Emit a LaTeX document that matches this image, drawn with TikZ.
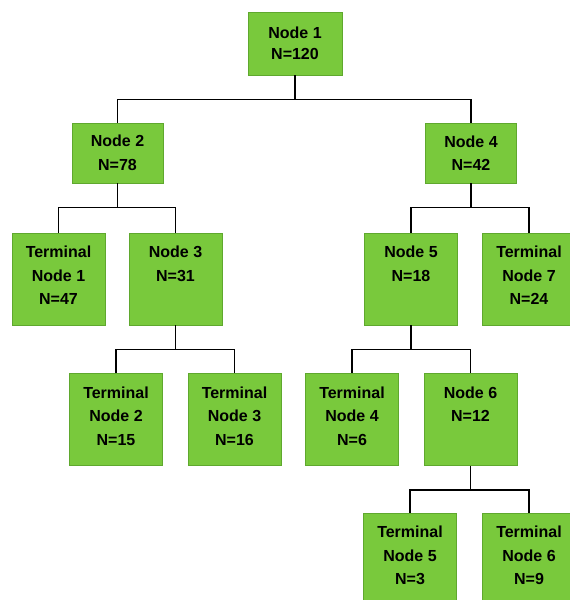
\documentclass[tikz,border=0pt]{standalone}
\usepackage{fontspec}
\setmainfont{Liberation Sans}
\definecolor{boxfill}{HTML}{79C93C}
\definecolor{boxedge}{HTML}{5FA82E}
\newcommand{\boxtxt}[1]{\parbox[c][66pt][t]{90pt}{\centering #1}}
\begin{document}
\begin{tikzpicture}[x=1pt, y=-1pt,
    box/.style={draw=boxedge, fill=boxfill, line width=0.6pt, inner sep=0pt,
      font=\fontsize{16}{23.5}\selectfont\bfseries},
    split/.style={box, minimum width=91pt, minimum height=60pt, align=center},
    leaf/.style={box, minimum width=93pt, minimum height=92pt},
    link/.style={draw=black, line width=1.4pt}]
  \useasboundingbox (0,0) rectangle (570,600);

  % Root and first split
  \node[split, minimum width=94pt, minimum height=63pt,
    font=\fontsize{16}{21}\selectfont\bfseries] (n1) at (295,43.5) {Node 1\\N=120};
  \node[split] (n2) at (117.5,153) {Node 2\\N=78};
  \node[split] (n4) at (471,153) {Node 4\\N=42};

  % Third row
  \node[leaf] (t1) at (58.5,279) {\boxtxt{Terminal\\Node 1\\N=47}};
  \node[leaf] (n3) at (175.5,279) {\boxtxt{Node 3\\N=31}};
  \node[leaf] (n5) at (411,279) {\boxtxt{Node 5\\N=18}};
  \node[leaf] (t7) at (529,279) {\boxtxt{Terminal\\Node 7\\N=24}};

  % Fourth row
  \node[leaf] (t2) at (116,419.5) {\boxtxt{Terminal\\Node 2\\N=15}};
  \node[leaf] (t3) at (234.5,419.5) {\boxtxt{Terminal\\Node 3\\N=16}};
  \node[leaf] (t4) at (352,419.5) {\boxtxt{Terminal\\Node 4\\N=6}};
  \node[leaf] (n6) at (470.5,419.5) {\boxtxt{Node 6\\N=12}};

  % Last row
  \node[leaf] (t5) at (410,559) {\boxtxt{Terminal\\Node 5\\N=3}};
  \node[leaf] (t6) at (529,559) {\boxtxt{Terminal\\Node 6\\N=9}};

  % Elbow connectors, parent to both children
  \foreach \p/\a/\b in {n1/n2/n4, n2/t1/n3, n3/t2/t3, n4/n5/t7, n5/t4/n6, n6/t5/t6}
    \draw[link] (\p.south) -- ++(0,24) coordinate (m)
      (m) -| (\a.north) (m) -| (\b.north);
\end{tikzpicture}
\end{document}
